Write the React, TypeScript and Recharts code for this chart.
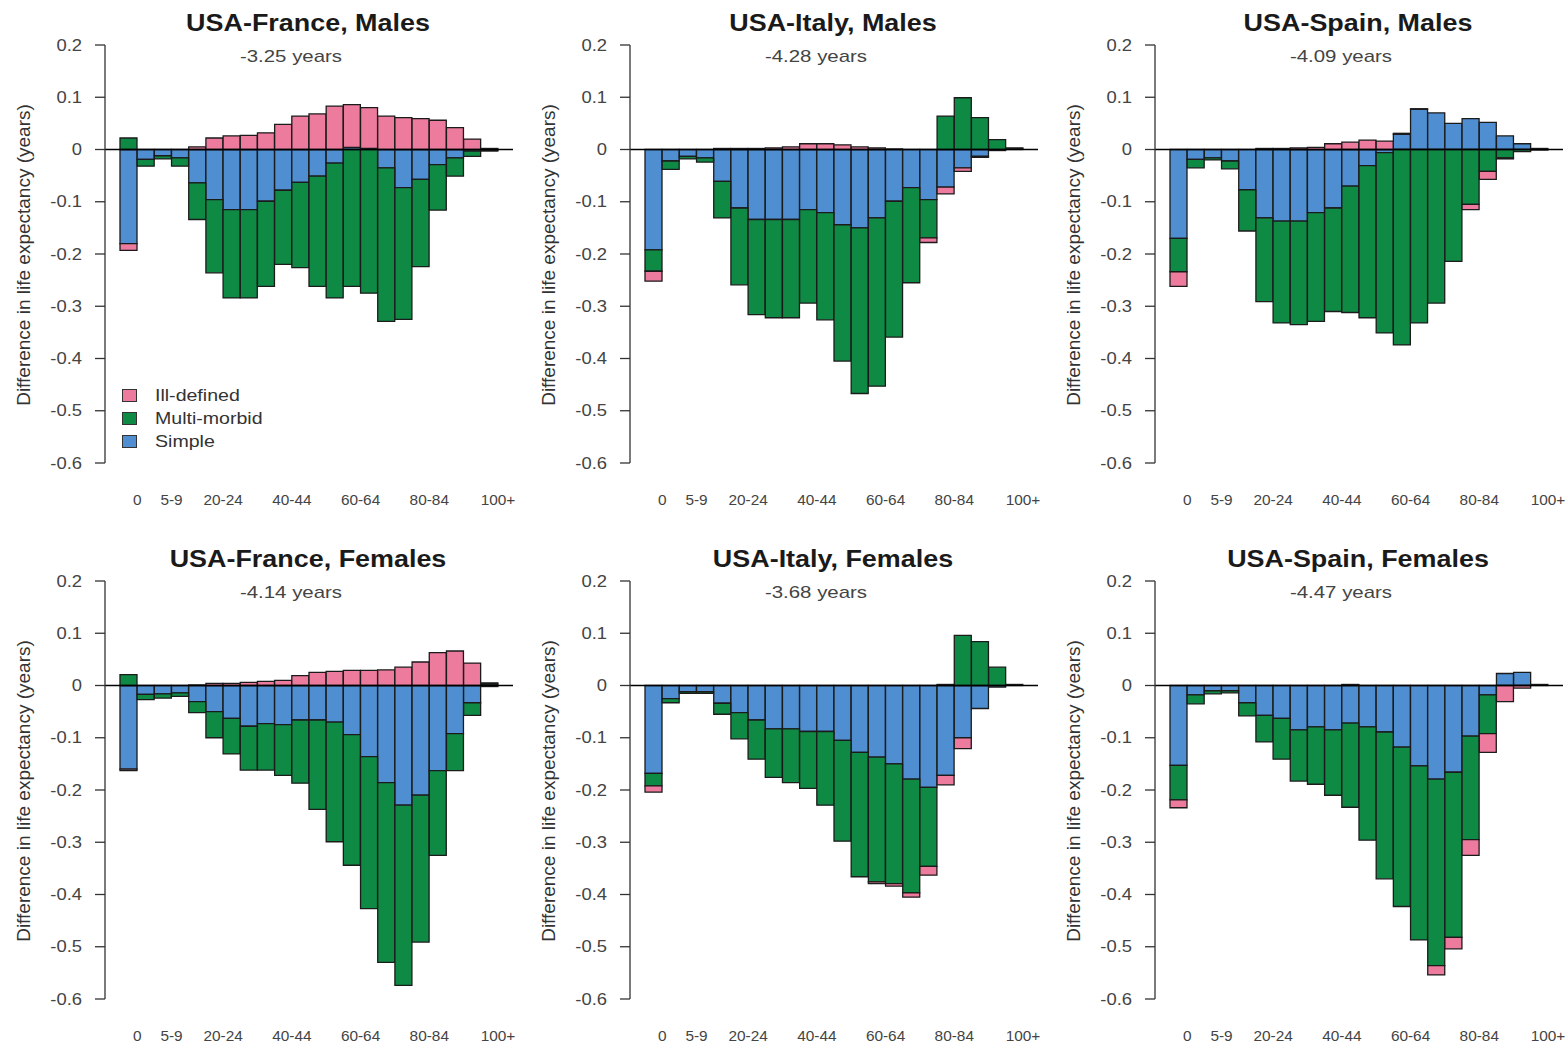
import { BarChart, Bar, XAxis, YAxis, ReferenceLine } from 'recharts';

// age groups, 22 bars
const ages = [
  '0', '1-4', '5-9', '10-14', '15-19', '20-24', '25-29', '30-34', '35-39', '40-44', '45-49',
  '50-54', '55-59', '60-64', '65-69', '70-74', '75-79', '80-84', '85-89', '90-94', '95-99', '100+',
];
const shownAges = ['0', '5-9', '20-24', '40-44', '60-64', '80-84', '100+'];
const yTicks = [0.2, 0.1, 0, -0.1, -0.2, -0.3, -0.4, -0.5, -0.6];

// USA-France, Males
const franceMalesSimple = [-0.18, -0.019, -0.012, -0.016, -0.064, -0.096, -0.115, -0.115, -0.099, -0.078, -0.063, -0.051, -0.026, 0.004, 0.002, -0.035, -0.073, -0.057, -0.029, -0.016, -0.003, -0.001];
const franceMalesMulti = [0.022, -0.013, -0.006, -0.016, -0.07, -0.14, -0.169, -0.169, -0.163, -0.142, -0.163, -0.211, -0.258, -0.262, -0.275, -0.294, -0.252, -0.167, -0.087, -0.035, -0.01, -0.002];
const franceMalesIll = [-0.013, 0, 0, 0, 0.005, 0.022, 0.026, 0.027, 0.032, 0.048, 0.064, 0.068, 0.083, 0.082, 0.078, 0.064, 0.061, 0.059, 0.056, 0.042, 0.02, 0.002];

// USA-Italy, Males
const italyMalesSimple = [-0.192, -0.022, -0.013, -0.016, -0.061, -0.112, -0.134, -0.134, -0.134, -0.115, -0.121, -0.144, -0.15, -0.131, -0.099, -0.073, -0.096, -0.072, -0.035, -0.013, -0.002, 0];
const italyMalesMulti = [-0.041, -0.016, -0.005, -0.008, -0.07, -0.147, -0.182, -0.188, -0.188, -0.179, -0.205, -0.261, -0.317, -0.322, -0.26, -0.182, -0.073, 0.064, 0.099, 0.061, 0.019, 0.002];
const italyMalesIll = [-0.019, 0, 0, 0, 0.002, 0.002, 0.002, 0.003, 0.005, 0.011, 0.011, 0.009, 0.005, 0.003, 0.001, 0, -0.009, -0.013, -0.007, -0.002, 0, 0.001];

// USA-Spain, Males
const spainMalesSimple = [-0.17, -0.019, -0.016, -0.022, -0.077, -0.131, -0.137, -0.137, -0.121, -0.112, -0.07, -0.031, -0.006, 0.029, 0.077, 0.07, 0.05, 0.059, 0.052, 0.026, 0.011, 0.002];
const spainMalesMulti = [-0.064, -0.016, -0.004, -0.015, -0.079, -0.16, -0.195, -0.198, -0.208, -0.198, -0.242, -0.291, -0.345, -0.374, -0.332, -0.294, -0.214, -0.105, -0.042, -0.016, -0.004, -0.001];
const spainMalesIll = [-0.028, 0, 0, 0, 0, 0.002, 0.002, 0.003, 0.004, 0.011, 0.014, 0.018, 0.016, 0.002, 0.001, 0, 0, -0.01, -0.015, -0.002, 0, 0];

// USA-France, Females
const franceFemalesSimple = [-0.16, -0.017, -0.016, -0.014, -0.031, -0.05, -0.063, -0.078, -0.073, -0.075, -0.066, -0.066, -0.07, -0.094, -0.136, -0.186, -0.229, -0.21, -0.163, -0.092, -0.033, -0.002];
const franceFemalesMulti = [0.021, -0.01, -0.008, -0.007, -0.021, -0.05, -0.068, -0.084, -0.089, -0.097, -0.121, -0.171, -0.229, -0.25, -0.291, -0.344, -0.345, -0.281, -0.162, -0.071, -0.024, 0.003];
const franceFemalesIll = [-0.003, 0, 0, 0, 0.001, 0.004, 0.004, 0.006, 0.008, 0.01, 0.019, 0.025, 0.027, 0.029, 0.029, 0.03, 0.035, 0.045, 0.063, 0.066, 0.043, 0.002];

// USA-Italy, Females
const italyFemalesSimple = [-0.168, -0.025, -0.012, -0.012, -0.034, -0.052, -0.066, -0.083, -0.083, -0.088, -0.088, -0.105, -0.128, -0.137, -0.15, -0.179, -0.195, -0.172, -0.1, -0.044, -0.003, 0];
const italyFemalesMulti = [-0.024, -0.008, -0.003, -0.003, -0.021, -0.05, -0.075, -0.093, -0.103, -0.109, -0.141, -0.193, -0.238, -0.239, -0.229, -0.218, -0.151, 0.002, 0.096, 0.084, 0.035, 0.002];
const italyFemalesIll = [-0.012, 0, 0, 0, 0, 0, 0, 0, 0, 0, 0, 0, 0, -0.003, -0.005, -0.008, -0.017, -0.018, -0.021, 0, 0, 0];

// USA-Spain, Females
const spainFemalesSimple = [-0.153, -0.018, -0.01, -0.01, -0.033, -0.057, -0.063, -0.085, -0.079, -0.085, -0.072, -0.079, -0.089, -0.118, -0.154, -0.179, -0.166, -0.097, -0.018, 0.023, 0.025, 0.002];
const spainFemalesMulti = [-0.066, -0.017, -0.006, -0.004, -0.025, -0.051, -0.078, -0.098, -0.11, -0.125, -0.161, -0.217, -0.281, -0.305, -0.333, -0.357, -0.316, -0.198, -0.074, 0, 0, 0];
const spainFemalesIll = [-0.015, 0, 0, 0, 0, 0, 0, 0, 0, 0, 0.002, 0, 0, 0, 0, -0.018, -0.022, -0.03, -0.036, -0.031, -0.005, 0];

const titles = [
  'USA-France, Males', 'USA-Italy, Males', 'USA-Spain, Males',
  'USA-France, Females', 'USA-Italy, Females', 'USA-Spain, Females',
];
const totals = ['-3.25 years', '-4.28 years', '-4.09 years', '-4.14 years', '-3.68 years', '-4.47 years'];

const panelSeries = [
  [franceMalesSimple, franceMalesMulti, franceMalesIll],
  [italyMalesSimple, italyMalesMulti, italyMalesIll],
  [spainMalesSimple, spainMalesMulti, spainMalesIll],
  [franceFemalesSimple, franceFemalesMulti, franceFemalesIll],
  [italyFemalesSimple, italyFemalesMulti, italyFemalesIll],
  [spainFemalesSimple, spainFemalesMulti, spainFemalesIll],
];

const COLORS = { simple: '#4f8fd1', multi: '#0f8a45', ill: '#ec7b9e' };
const legendItems = [
  { label: 'Ill-defined', color: COLORS.ill },
  { label: 'Multi-morbid', color: COLORS.multi },
  { label: 'Simple', color: COLORS.simple },
];

const FONT = '"Liberation Sans", Arial, Helvetica, sans-serif';
const PANEL_W = 520;
const PANEL_H = 520;
const MARGIN = { top: 45, right: 7, left: 45, bottom: 17 };
const Y_AXIS_W = 60;
const X_PAD = 15;
const BAND = (PANEL_W - MARGIN.left - MARGIN.right - Y_AXIS_W - 2 * X_PAD) / ages.length;
const STRETCH = 1.15;

const fmt = (v: number) => (Math.abs(v) < 1e-9 ? '0' : String(Math.round(v * 10) / 10));

// labels sit at the right edge of each bar, as in the original R plot
const AgeTick = ({ x, y, payload }: any) => {
  if (!shownAges.includes(payload.value)) return <g />;
  return (
    <text
      transform={`translate(${x + BAND / 2},${y + 42}) scale(1.1,1)`}
      textAnchor="middle"
      fontSize={14}
      fontFamily={FONT}
      fill="#444"
    >
      {payload.value}
    </text>
  );
};

const ValueTick = ({ x, y, payload }: any) => (
  <text
    transform={`translate(${x},${y}) scale(${STRETCH},1)`}
    textAnchor="end"
    dy="0.35em"
    fontSize={16}
    fontFamily={FONT}
    fill="#444"
  >
    {fmt(payload.value)}
  </text>
);

function Panel({ index }: { index: number }) {
  const [simple, multi, ill] = panelSeries[index];
  const data = ages.map((age, i) => ({ age, simple: simple[i], multi: multi[i], ill: ill[i] }));
  const col = index % 3;
  const row = Math.floor(index / 3);

  return (
    <div style={{ position: 'absolute', left: col * 525, top: row * 536, width: PANEL_W, height: PANEL_H }}>
      <BarChart
        width={PANEL_W}
        height={PANEL_H}
        data={data}
        margin={MARGIN}
        stackOffset="sign"
        barCategoryGap={0}
        barGap={0}
      >
        <XAxis
          dataKey="age"
          interval={0}
          axisLine={false}
          tickLine={false}
          tickSize={0}
          tickMargin={0}
          height={40}
          padding={{ left: X_PAD, right: X_PAD }}
          tick={<AgeTick />}
        />
        <YAxis
          type="number"
          domain={[-0.6, 0.2]}
          ticks={yTicks}
          interval={0}
          width={Y_AXIS_W}
          allowDataOverflow
          axisLine={{ stroke: '#333', strokeWidth: 1.3 }}
          tickLine={{ stroke: '#333', strokeWidth: 1.3 }}
          tickSize={10}
          tickMargin={13}
          tick={<ValueTick />}
        />
        <Bar dataKey="simple" stackId="a" fill={COLORS.simple} stroke="#1b1b1b" strokeWidth={1.3} isAnimationActive={false} />
        <Bar dataKey="multi" stackId="a" fill={COLORS.multi} stroke="#1b1b1b" strokeWidth={1.3} isAnimationActive={false} />
        <Bar dataKey="ill" stackId="a" fill={COLORS.ill} stroke="#1b1b1b" strokeWidth={1.3} isAnimationActive={false} />
        <ReferenceLine y={0} stroke="#000" strokeWidth={1.6} />
      </BarChart>

      {/* title and total difference */}
      <div style={{
        position: 'absolute', left: 308, top: 23, transform: 'translate(-50%,-50%) scaleX(1.17)',
        fontSize: 23, fontWeight: 'bold', color: '#1a1a1a', whiteSpace: 'nowrap',
      }}>
        {titles[index]}
      </div>
      <div style={{
        position: 'absolute', left: 291, top: 57, transform: 'translate(-50%,-50%) scaleX(1.2)',
        fontSize: 17, color: '#444', whiteSpace: 'nowrap',
      }}>
        {totals[index]}
      </div>
      <div style={{
        position: 'absolute', left: 24, top: 255, transform: 'translate(-50%,-50%) rotate(-90deg)',
        fontSize: 19, color: '#333', whiteSpace: 'nowrap',
      }}>
        Difference in life expectancy (years)
      </div>

      {index === 0 && (
        <div style={{ position: 'absolute', left: 122, top: 384 }}>
          {legendItems.map((item) => (
            <div key={item.label} style={{ display: 'flex', alignItems: 'center', height: 23 }}>
              <div style={{ width: 13, height: 11, background: item.color, border: '1px solid #333' }} />
              <span style={{
                marginLeft: 18, fontSize: 17, color: '#333', transform: `scaleX(${STRETCH})`,
                transformOrigin: 'left center', whiteSpace: 'nowrap',
              }}>
                {item.label}
              </span>
            </div>
          ))}
        </div>
      )}
    </div>
  );
}

export default function App() {
  return (
    <div style={{
      position: 'absolute', left: 0, top: 0, width: 1565, height: 1045,
      background: '#fff', fontFamily: FONT, overflow: 'hidden',
    }}>
      {titles.map((_, i) => (
        <Panel key={i} index={i} />
      ))}
    </div>
  );
}
